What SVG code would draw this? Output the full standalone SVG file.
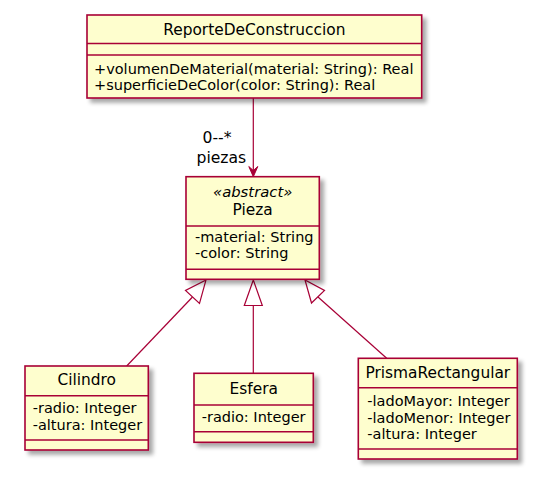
<svg xmlns="http://www.w3.org/2000/svg" width="542" height="486" viewBox="0 0 542 486">
<defs>
<filter id="sh" x="-10%" y="-10%" width="130%" height="130%">
<feGaussianBlur in="SourceAlpha" stdDeviation="2"/>
<feOffset dx="4" dy="4" result="b"/>
<feComponentTransfer><feFuncA type="linear" slope="0.35"/></feComponentTransfer>
<feMerge><feMergeNode/><feMergeNode in="SourceGraphic"/></feMerge>
</filter>
</defs>
<style>
.box{fill:#FEFECE;stroke:#A80036;stroke-width:1.6;filter:url(#sh)}
.sep{stroke:#A80036;stroke-width:1.6}
.name{font-family:"DejaVu Sans",sans-serif;font-size:15.4px;fill:#000;text-anchor:middle}
.st{font-family:"DejaVu Sans",sans-serif;font-size:14.8px;font-style:italic;fill:#000;text-anchor:middle}
.attr{font-family:"DejaVu Sans",sans-serif;font-size:14.5px;fill:#000}
.lbl{font-family:"DejaVu Sans",sans-serif;font-size:15.6px;fill:#000}
.ln{stroke:#A80036;stroke-width:1.2;fill:none}
.tri{fill:#fff;stroke:#A80036;stroke-width:1.2}
</style>
<rect width="542" height="486" fill="#fff"/>
<g id="connectors">
<line class="ln" x1="253.3" y1="98" x2="253.3" y2="175"/>
<polygon points="253.3,176.7 248.8,166.5 253.3,170.5 257.8,166.5" fill="#A80036" stroke="#A80036" stroke-width="1"/>
<text class="lbl" x="202.5" y="142.7">0--*</text>
<text class="lbl" x="196.5" y="162.7">piezas</text>
<line class="ln" x1="126.7" y1="366" x2="192.5" y2="297"/>
<polygon class="tri" points="206,280 185.5,290.5 199.5,303.5"/>
<line class="ln" x1="253.3" y1="373.3" x2="253.3" y2="305.5"/>
<polygon class="tri" points="253.3,280 244.3,305.5 262.3,305.5"/>
<line class="ln" x1="386.7" y1="358.3" x2="318" y2="297"/>
<polygon class="tri" points="305,280 311.5,303 324.5,290.5"/>
</g>
<g id="ReporteDeConstruccion">
<rect class="box" x="87" y="15" width="334.7" height="83"/>
<line class="sep" x1="87" y1="43.5" x2="421.7" y2="43.5"/>
<line class="sep" x1="87" y1="55" x2="421.7" y2="55"/>
<text class="name" x="254.3" y="35">ReporteDeConstruccion</text>
<text class="attr" x="94" y="74">+volumenDeMaterial(material: String): Real</text>
<text class="attr" x="94" y="90.3">+superficieDeColor(color: String): Real</text>
</g>
<g id="Pieza">
<rect class="box" x="186" y="176.7" width="133.3" height="102.6"/>
<line class="sep" x1="186" y1="226" x2="319.3" y2="226"/>
<line class="sep" x1="186" y1="269.3" x2="319.3" y2="269.3"/>
<text class="st" x="252.7" y="196.5">«abstract»</text>
<text class="name" x="252.7" y="215">Pieza</text>
<text class="attr" x="195" y="241.7">-material: String</text>
<text class="attr" x="195" y="258">-color: String</text>
</g>
<g id="Cilindro">
<rect class="box" x="25" y="366" width="123.3" height="84"/>
<line class="sep" x1="25" y1="395.7" x2="148.3" y2="395.7"/>
<line class="sep" x1="25" y1="440" x2="148.3" y2="440"/>
<text class="name" x="86.7" y="385">Cilindro</text>
<text class="attr" x="32.7" y="412.7">-radio: Integer</text>
<text class="attr" x="32.7" y="429.5">-altura: Integer</text>
</g>
<g id="Esfera">
<rect class="box" x="194" y="373.3" width="119.3" height="69"/>
<line class="sep" x1="194" y1="405" x2="313.3" y2="405"/>
<line class="sep" x1="194" y1="431.7" x2="313.3" y2="431.7"/>
<text class="name" x="253.7" y="394.3">Esfera</text>
<text class="attr" x="201.7" y="422.3">-radio: Integer</text>
</g>
<g id="PrismaRectangular">
<rect class="box" x="358.3" y="358.3" width="159" height="100.7"/>
<line class="sep" x1="358.3" y1="387.7" x2="517.3" y2="387.7"/>
<line class="sep" x1="358.3" y1="449" x2="517.3" y2="449"/>
<text class="name" x="437.8" y="377.7">PrismaRectangular</text>
<text class="attr" x="367.3" y="406">-ladoMayor: Integer</text>
<text class="attr" x="367.3" y="422.7">-ladoMenor: Integer</text>
<text class="attr" x="367.3" y="439.3">-altura: Integer</text>
</g>
</svg>
